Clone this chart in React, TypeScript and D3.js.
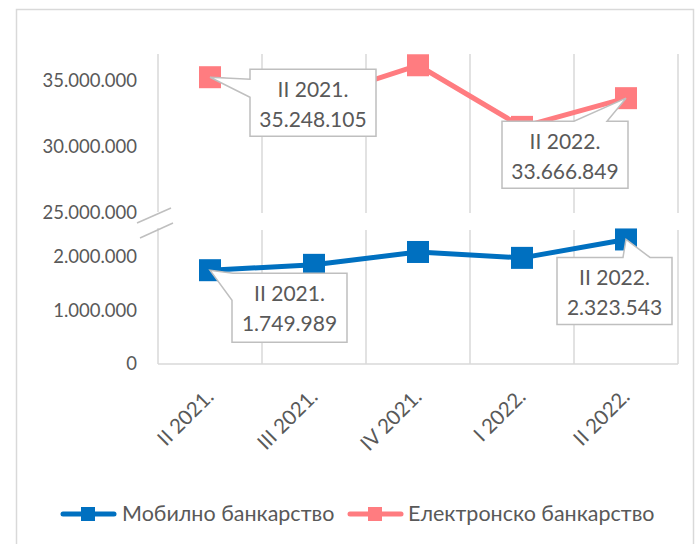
import React from "react";
import * as d3 from "d3";

const categories = ["II 2021.", "III 2021.", "IV 2021.", "I 2022.", "II 2022."];
const mobile = [1749989, 1850000, 2090000, 1980000, 2323543];
const electronic = [35248105, 33600000, 36150000, 31500000, 33666849];
const upperTicks = [35000000, 30000000, 25000000];
const lowerTicks = [2000000, 1000000, 0];
const seriesNames = ["Мобилно банкарство", "Електронско банкарство"];

const W = 700;
const H = 544;
const BLUE = "#0070C0";
const PINK = "#FF7C80";
const TEXT = "#595959";
const GRID = "#D9D9D9";
const BOX = "#BFBFBF";
const FONT = "Lato, 'Open Sans', sans-serif";

const locale = d3.formatLocale({ decimal: ",", thousands: ".", grouping: [3], currency: ["", ""] });
const fmt = locale.format(",d");

export default function App() {
  const x = d3.scaleBand<string>().domain(categories).range([158, 678]);
  const cx = (i: number) => (x(categories[i]) as number) + x.bandwidth() / 2;
  const yU = d3.scaleLinear().domain([25000000, 37000000]).range([213, 54]);
  const yL = d3.scaleLinear().domain([0, 2500000]).range([364, 230]);

  const lineU = d3.line<number>().x((_, i) => cx(i)).y((d) => yU(d));
  const lineL = d3.line<number>().x((_, i) => cx(i)).y((d) => yL(d));

  const boundaries = categories.map((c) => x(c) as number).concat([678]);

  type Call = { px: number; py: number; text: string[]; path: string; bx: number; by: number; w: number };
  const calls: Call[] = [];
  {
    const i = 0, px = cx(i), py = yU(electronic[i]);
    const bx = px + 40, by = py - 8, w = 126, h = 67;
    const path = `M${bx},${by} H${bx + w} V${by + h} H${bx} V${by + 28} L${px},${py} L${bx},${by + 10} Z`;
    calls.push({ px, py, text: [categories[i], fmt(electronic[i])], path, bx, by, w });
  }
  {
    const i = 4, px = cx(i), py = yU(electronic[i]);
    const bx = px - 124, by = py + 23, w = 126, h = 67;
    const path = `M${bx},${by} H${px - 52} L${px},${py} L${px - 19},${by} H${bx + w} V${by + h} H${bx} Z`;
    calls.push({ px, py, text: [categories[i], fmt(electronic[i])], path, bx, by, w });
  }
  {
    const i = 0, px = cx(i), py = yL(mobile[i]);
    const bx = px + 22, by = py + 3, w = 115, h = 69;
    const path = `M${bx + 1},${by} H${bx + w} V${by + h} H${bx} V${by + 27} L${px},${py} Z`;
    calls.push({ px, py, text: [categories[i], fmt(mobile[i])], path, bx, by, w });
  }
  {
    const i = 4, px = cx(i), py = yL(mobile[i]);
    const bx = px - 69, by = py + 18, w = 115, h = 67;
    const path = `M${bx},${by} H${px - 3} L${px},${py} L${px + 24},${by} H${bx + w} V${by + h} H${bx} Z`;
    calls.push({ px, py, text: [categories[i], fmt(mobile[i])], path, bx, by, w });
  }

  const ms = 22;

  return (
    <svg width={W} height={H} style={{ position: "absolute", left: 0, top: 0, background: "#fff" }} fontFamily={FONT}>
      <rect x={0} y={0} width={W} height={H} fill="#fff" />
      <rect x={16.5} y={9.5} width={677} height={560} fill="none" stroke={GRID} strokeWidth={1.5} />

      {boundaries.map((b, k) => (
        <g key={k}>
          <line x1={b} x2={b} y1={yU.range()[1]} y2={k === 0 ? 212 : 213} stroke={GRID} strokeWidth={1.5} />
          <line x1={b} x2={b} y1={k === 0 ? 228 : 230} y2={364} stroke={GRID} strokeWidth={1.5} />
        </g>
      ))}
      <line x1={158} x2={678} y1={364} y2={364} stroke={GRID} strokeWidth={1.5} />

      <line x1={137} y1={223} x2={171} y2={208} stroke={BOX} strokeWidth={1.5} />
      <line x1={140} y1={238} x2={173} y2={223} stroke={BOX} strokeWidth={1.5} />

      {upperTicks.map((t) => (
        <text key={"u" + t} x={137} y={yU(t)} dy="0.35em" textAnchor="end" fontSize={18.5} fill={TEXT}>
          {fmt(t)}
        </text>
      ))}
      {lowerTicks.map((t) => (
        <text key={"l" + t} x={137} y={yL(t)} dy="0.35em" textAnchor="end" fontSize={18.5} fill={TEXT}>
          {fmt(t)}
        </text>
      ))}

      {categories.map((c, i) => (
        <text
          key={c}
          transform={`translate(${cx(i) + 5},${398}) rotate(-45)`}
          textAnchor="end"
          fontSize={20.5}
          fill={TEXT}
        >
          {c}
        </text>
      ))}

      <path d={lineU(electronic) || ""} fill="none" stroke={PINK} strokeWidth={5} strokeLinejoin="round" />
      {electronic.map((v, i) => (
        <rect key={"e" + i} x={cx(i) - ms / 2} y={yU(v) - ms / 2} width={ms} height={ms} fill={PINK} />
      ))}
      <path d={lineL(mobile) || ""} fill="none" stroke={BLUE} strokeWidth={5} strokeLinejoin="round" />
      {mobile.map((v, i) => (
        <rect key={"m" + i} x={cx(i) - ms / 2} y={yL(v) - ms / 2} width={ms} height={ms} fill={BLUE} />
      ))}

      {calls.map((c, k) => (
        <g key={k}>
          <path d={c.path} fill="#fff" stroke={BOX} strokeWidth={1.5} />
          <text x={c.bx + c.w / 2} y={c.by + 28} textAnchor="middle" fontSize={21} fill={TEXT}>
            {c.text[0]}
          </text>
          <text x={c.bx + c.w / 2} y={c.by + 58} textAnchor="middle" fontSize={21} fill={TEXT}>
            {c.text[1]}
          </text>
        </g>
      ))}

      <g>
        <line x1={63} x2={114} y1={514} y2={514} stroke={BLUE} strokeWidth={5} strokeLinecap="round" />
        <rect x={81} y={507} width={14} height={14} fill={BLUE} />
        <text x={122} y={521} fontSize={21.5} fill={TEXT}>{seriesNames[0]}</text>
        <line x1={350} x2={401} y1={514} y2={514} stroke={PINK} strokeWidth={5} strokeLinecap="round" />
        <rect x={368} y={507} width={14} height={14} fill={PINK} />
        <text x={408} y={521} fontSize={21.5} fill={TEXT}>{seriesNames[1]}</text>
      </g>
    </svg>
  );
}
